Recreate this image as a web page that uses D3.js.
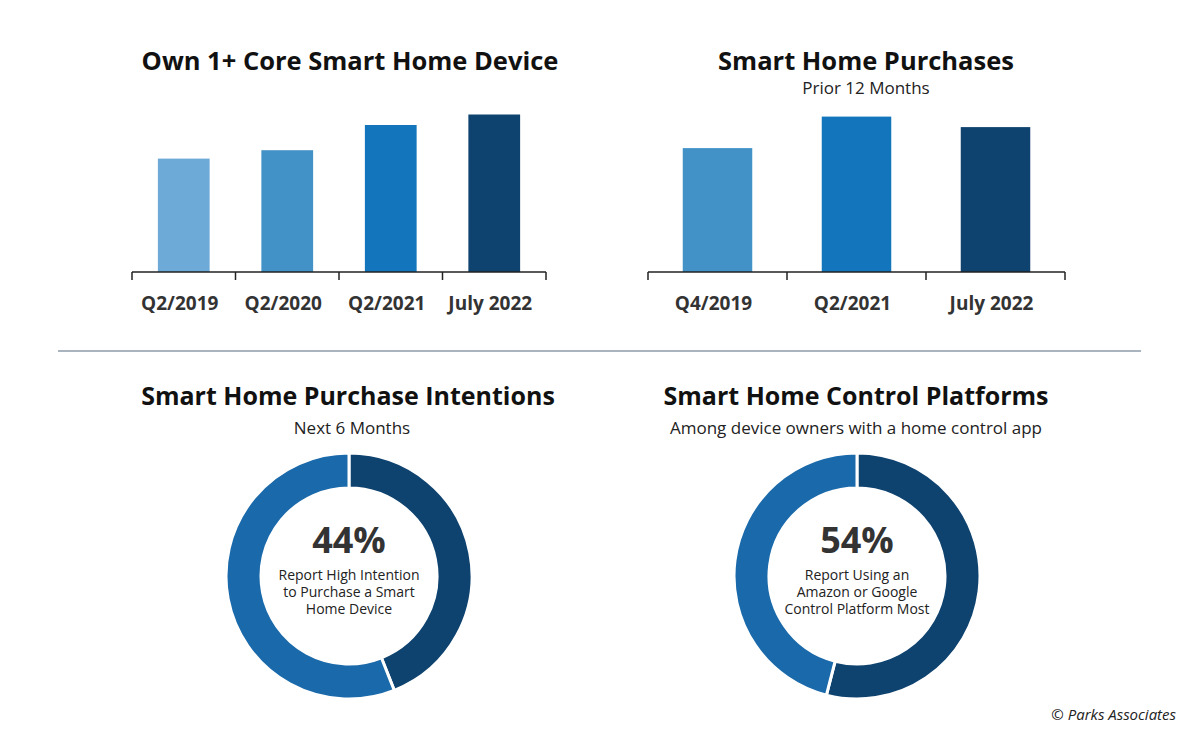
<!DOCTYPE html>
<html>
<head>
<meta charset="utf-8">
<script src="https://cdn.jsdelivr.net/npm/d3@7"></script>
<style>
  body { margin: 0; background: #fff; }
  svg { display: block; font-family: "Open Sans", sans-serif; }
</style>
</head>
<body>
<svg width="1200" height="739"></svg>
<script>
// chart data (bar heights, no axis values shown)
var ownLabels = ["Q2/2019", "Q2/2020", "Q2/2021", "July 2022"];
var ownValues = [54, 58, 70, 75];
var ownColors = ["#6eaad8", "#4292c8", "#1375bb", "#0e426f"];

var buyLabels = ["Q4/2019", "Q2/2021", "July 2022"];
var buyValues = [59, 74, 69];
var buyColors = ["#4292c8", "#1375bb", "#0e426f"];

var intentShare = [44, 56];
var platformShare = [54, 46];
var donutColors = ["#0e426f", "#1a69aa"];

var svg = d3.select("svg"),
  width = +svg.attr("width"),
  height = +svg.attr("height");

var y = d3.scaleLinear().domain([0, 100]).range([272, 62]);

function title(x, yy, txt, size) {
  svg.append("text")
    .attr("x", x).attr("y", yy)
    .attr("text-anchor", "middle")
    .style("font-weight", 700)
    .style("font-size", size + "px")
    .style("fill", "#111")
    .text(txt);
}
function subtitle(x, yy, txt) {
  svg.append("text")
    .attr("x", x).attr("y", yy)
    .attr("text-anchor", "middle")
    .style("font-size", "17px")
    .style("fill", "#222")
    .text(txt);
}

function barChart(labels, values, colors, x0, x1) {
  var x = d3.scaleBand().domain(labels).range([x0, x1]).padding(0.5).paddingOuter(0.25);
  var g = svg.append("g");

  g.selectAll(".bar")
    .data(values)
    .enter().append("rect")
    .attr("class", "bar")
    .attr("x", (d, i) => x(labels[i]))
    .attr("width", x.bandwidth())
    .attr("y", d => y(d))
    .attr("height", d => y(0) - y(d))
    .style("fill", (d, i) => colors[i]);

  // axis line with ticks at the band edges
  var step = x.step();
  var edges = d3.range(labels.length + 1).map(i => x0 + i * step);
  g.append("line")
    .attr("x1", x0).attr("x2", x1)
    .attr("y1", y(0)).attr("y2", y(0))
    .style("stroke", "#222").style("stroke-width", 1.5);
  g.selectAll(".tick")
    .data(edges)
    .enter().append("line")
    .attr("x1", d => d).attr("x2", d => d)
    .attr("y1", y(0)).attr("y2", y(0) + 8)
    .style("stroke", "#222").style("stroke-width", 1.5);

  g.selectAll(".lbl")
    .data(labels)
    .enter().append("text")
    .attr("x", d => x(d) + x.bandwidth() / 2 - 4)
    .attr("y", 310)
    .attr("text-anchor", "middle")
    .style("font-weight", 700)
    .style("font-size", "19px")
    .style("fill", "#333")
    .text(d => d);
}

title(350, 70, "Own 1+ Core Smart Home Device", 25.5);
barChart(ownLabels, ownValues, ownColors, 132, 546);

title(866, 70, "Smart Home Purchases", 25.5);
subtitle(866, 94, "Prior 12 Months");
barChart(buyLabels, buyValues, buyColors, 648, 1065);

// divider
svg.append("line")
  .attr("x1", 58).attr("x2", 1141)
  .attr("y1", 351).attr("y2", 351)
  .style("stroke", "#8d9ba8").style("stroke-width", 1.5);

function donut(cx, cy, shares, bigText, lines) {
  var pie = d3.pie().sort(null).value(d => d);
  var arc = d3.arc().innerRadius(88).outerRadius(123);
  var g = svg.append("g").attr("transform", "translate(" + cx + "," + cy + ")");
  g.selectAll("path")
    .data(pie(shares))
    .enter().append("path")
    .attr("d", arc)
    .style("fill", (d, i) => donutColors[i])
    .style("stroke", "#fff")
    .style("stroke-width", 3);
  g.append("text")
    .attr("y", -23)
    .attr("text-anchor", "middle")
    .style("font-weight", 700)
    .style("font-size", "36px")
    .style("fill", "#333")
    .text(bigText);
  g.selectAll(".line")
    .data(lines)
    .enter().append("text")
    .attr("y", (d, i) => 4 + i * 17)
    .attr("text-anchor", "middle")
    .style("font-size", "14px")
    .style("fill", "#222")
    .text(d => d);
}

title(348, 405, "Smart Home Purchase Intentions", 25);
subtitle(352, 434, "Next 6 Months");
donut(349, 576, intentShare, "44%", ["Report High Intention", "to Purchase a Smart", "Home Device"]);

title(856, 405, "Smart Home Control Platforms", 25);
subtitle(856, 434, "Among device owners with a home control app");
donut(857, 576, platformShare, "54%", ["Report Using an", "Amazon or Google", "Control Platform Most"]);

svg.append("text")
  .attr("x", 1176).attr("y", 720)
  .attr("text-anchor", "end")
  .style("font-style", "italic")
  .style("font-size", "15px")
  .style("fill", "#222")
  .text("© Parks Associates");
</script>
</body>
</html>
